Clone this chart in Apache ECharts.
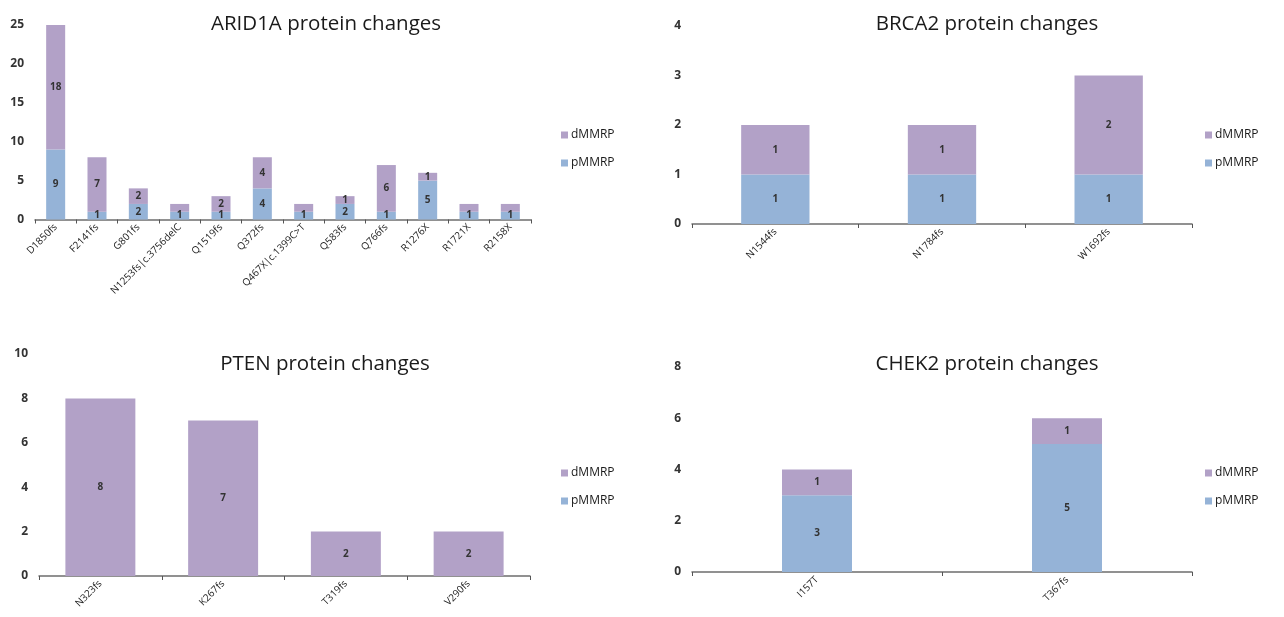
<!DOCTYPE html>
<html><head><meta charset="utf-8">
<script src="https://cdn.jsdelivr.net/npm/echarts@6/dist/echarts.min.js"></script>
<style>html,body{margin:0;padding:0;background:#fff}#c{width:1284px;height:617px}</style>
</head><body><div id="c"></div>
<script>
const seriesNames = ['dMMRP', 'pMMRP'];

const arid1aCategories = ['D1850fs','F2141fs','G801fs','N1253fs|c.3756delC','Q1519fs','Q372fs','Q467X|c.1399C>T','Q583fs','Q766fs','R1276X','R1721X','R2158X'];
const arid1aP = [9,1,2,1,1,4,1,2,1,5,1,1];
const arid1aD = [18,7,2,1,2,4,1,1,6,1,1,1];

const brca2Categories = ['N1544fs','N1784fs','W1692fs'];
const brca2P = [1,1,1];
const brca2D = [1,1,2];

const ptenCategories = ['N323fs','K267fs','T319fs','V290fs'];
const ptenP = [0,0,0,0];
const ptenD = [8,7,2,2];

const chek2Categories = ['I157T','T367fs'];
const chek2P = [3,5];
const chek2D = [1,1];

const panels = [
  {title:'ARID1A protein changes', cats:arid1aCategories, p:arid1aP, d:arid1aD, max:25, interval:5,
   grid:{left:35, top:25, width:496, height:194.5}, titlePos:[321, 9], legend:[556,124], barWidth:'46%'},
  {title:'BRCA2 protein changes', cats:brca2Categories, p:brca2P, d:brca2D, max:4, interval:1,
   grid:{left:692, top:26, width:500, height:198}, titlePos:[982, 9], legend:[1200,124], barWidth:'41%'},
  {title:'PTEN protein changes', cats:ptenCategories, p:ptenP, d:ptenD, max:10, interval:2,
   grid:{left:39, top:354, width:491, height:222}, titlePos:[320, 349], legend:[556,462], barWidth:'57%'},
  {title:'CHEK2 protein changes', cats:chek2Categories, p:chek2P, d:chek2D, max:8, interval:2,
   grid:{left:692, top:367, width:500, height:205}, titlePos:[982, 349], legend:[1200,462], barWidth:'28%'}
];

const FONT = 'Open Sans';
const colD = '#B2A1C7', colP = '#95B3D7';

const option = {
  animation:false,
  textStyle:{fontFamily:FONT},
  title:[], legend:[], grid:[], xAxis:[], yAxis:[], series:[]
};

panels.forEach((pn,i)=>{
  option.title.push({text:pn.title, left:pn.titlePos[0], top:pn.titlePos[1], textAlign:'center',
    textStyle:{fontFamily:FONT, fontSize:20.5, fontWeight:'normal', color:'#1a1a1a'}});
  option.grid.push(Object.assign({containLabel:false}, pn.grid));
  option.xAxis.push({type:'category', gridIndex:i, data:pn.cats,
    axisLine:{lineStyle:{color:'#6d6d6d', width:1.5}},
    axisTick:{show:true, length:4, lineStyle:{color:'#555'}},
    axisLabel:{rotate:45, fontSize:10, color:'#222', margin:6, interval:0, fontFamily:FONT}
  });
  option.yAxis.push({type:'value', gridIndex:i, min:0, max:pn.max, interval:pn.interval,
    axisLine:{show:false}, axisTick:{show:false}, splitLine:{show:false},
    axisLabel:{fontSize:12, fontWeight:'bold', color:'#333', margin:11, fontFamily:FONT}
  });
  const lbl = {show:true, position:'inside', fontSize:10, fontWeight:'bold', color:'#333', fontFamily:FONT,
    formatter:(p)=> p.value === 0 ? '' : String(p.value)};
  option.series.push({name:'pMMRP', type:'bar', stack:'s'+i, xAxisIndex:i, yAxisIndex:i,
    data:pn.p, barWidth:pn.barWidth, itemStyle:{color:colP}, label:lbl, labelLayout:{hideOverlap:true}, clip:true});
  option.series.push({name:'dMMRP', type:'bar', stack:'s'+i, xAxisIndex:i, yAxisIndex:i,
    data:pn.d, barWidth:pn.barWidth, itemStyle:{color:colD}, label:lbl, labelLayout:{hideOverlap:true}, clip:true});
  option.legend.push({orient:'vertical', left:pn.legend[0], top:pn.legend[1], data:seriesNames,
    icon:'rect', itemWidth:7, itemHeight:7, itemGap:16,
    textStyle:{fontSize:12, color:'#1a1a1a', fontFamily:FONT, padding:[0,0,0,-2]}});
});

const chart = echarts.init(document.getElementById('c'));
chart.setOption(option);
</script></body></html>
